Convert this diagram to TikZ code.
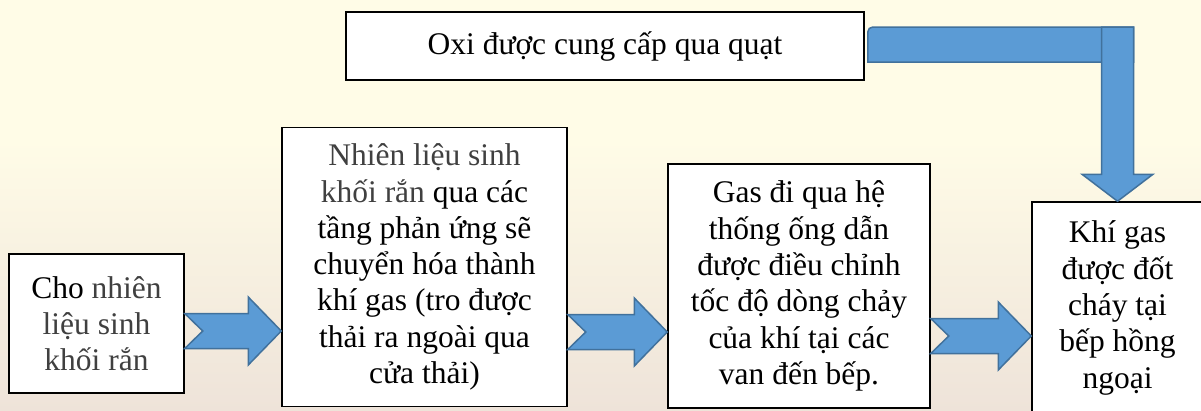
\documentclass[tikz,border=0pt]{standalone}
\usepackage{fontspec}
\setmainfont{Liberation Serif}
\newfontfamily\boxfont{Liberation Serif}
\usetikzlibrary{calc}

\definecolor{cream}{RGB}{255,252,231}
\definecolor{sand}{RGB}{238,227,217}
\definecolor{arrowfill}{RGB}{91,155,213}
\definecolor{arrowline}{RGB}{65,113,156}
\definecolor{softtext}{RGB}{64,64,64}

\tikzset{
  stepbox/.style={draw=black, line width=1.5pt, fill=white, inner sep=0pt,
    align=center, text=black, font=\boxfont\fontsize{31.5}{36.3}\selectfont},
  blockarrow/.style={fill=arrowfill, draw=arrowline, line width=1.5pt, line join=miter},
}

% notched block arrow from the east side of #1 to the west side of #2 at height #3
\newcommand\notcharrow[3]{%
  \coordinate (na) at (#1.east |- 0,#3);
  \coordinate (nb) at (#2.west |- 0,#3);
  \draw[blockarrow] ($(na)+(0,-17.5)$) -- ($(nb)+(-33,-17.5)$) -- ($(nb)+(-33,-34)$)
    -- (nb) -- ($(nb)+(-33,34)$) -- ($(nb)+(-33,17.5)$) -- ($(na)+(0,17.5)$)
    -- ($(na)+(18,0)$) -- cycle;}

\begin{document}
\begin{tikzpicture}[x=1pt,y=-1pt]
\useasboundingbox (0,0) rectangle (1201,410);
\clip (0,0) rectangle (1201,410);

% background
\fill[cream] (0,0) rectangle (1201,410);
\shade[top color=cream, bottom color=sand] (0,140) rectangle (1201,411);

% process steps
\node[stepbox, minimum width=175pt, minimum height=139pt, text=softtext] (b1) at (96.5,323.5)
  {\textcolor{black}{Cho} nhiên\\ liệu sinh\\ khối rắn};
\node[stepbox, minimum width=285pt, minimum height=279pt] (b2) at (424.5,267)
  {{\color{softtext}Nhiên liệu sinh}\\ {\color{softtext}khối rắn} qua các\\ tầng phản ứng sẽ\\
   chuyển hóa thành\\ khí gas (tro được\\ thải ra ngoài qua\\ cửa thải)};
\node[stepbox, minimum width=262pt, minimum height=244pt] (b3) at (799,286)
  {Gas đi qua hệ\\ thống ống dẫn\\ được điều chỉnh\\ tốc độ dòng chảy\\ của khí tại các\\ van đến bếp.};
\node[stepbox, minimum width=171pt, minimum height=212pt] (b4) at (1117.5,308)
  {Khí gas\\ được đốt\\ cháy tại\\ bếp hồng\\ ngoại};
\node[stepbox, minimum width=518pt, minimum height=68pt] (tb) at (605,46)
  {Oxi được cung cấp qua quạt};

% flow arrows
\notcharrow{b1}{b2}{331}
\notcharrow{b2}{b3}{332}
\notcharrow{b3}{b4}{336}

% oxygen supply: bent arrow from the fan box down to the burner
\path (tb.east) ++(3,16) coordinate (barBL) ++(0,-35) coordinate (barTL);
\coordinate (barTR) at ($(b4.north |- barTL)+(16,0)$);
\draw[blockarrow] (barBL) -- ($(barTL)+(0,5)$) arc[start angle=180, end angle=270, radius=5]
  -- (barTR) -- (barTR |- barBL) -- cycle;
\coordinate (vt) at (b4.north |- barTL);
\draw[blockarrow] ($(vt)+(-16,0)$) -- ($(vt)+(16,0)$) -- ($(b4.north)+(16,-27)$)
  -- ($(b4.north)+(35.5,-27)$) -- (b4.north) -- ($(b4.north)+(-35.5,-27)$)
  -- ($(b4.north)+(-16,-27)$) -- cycle;
\end{tikzpicture}
\end{document}
